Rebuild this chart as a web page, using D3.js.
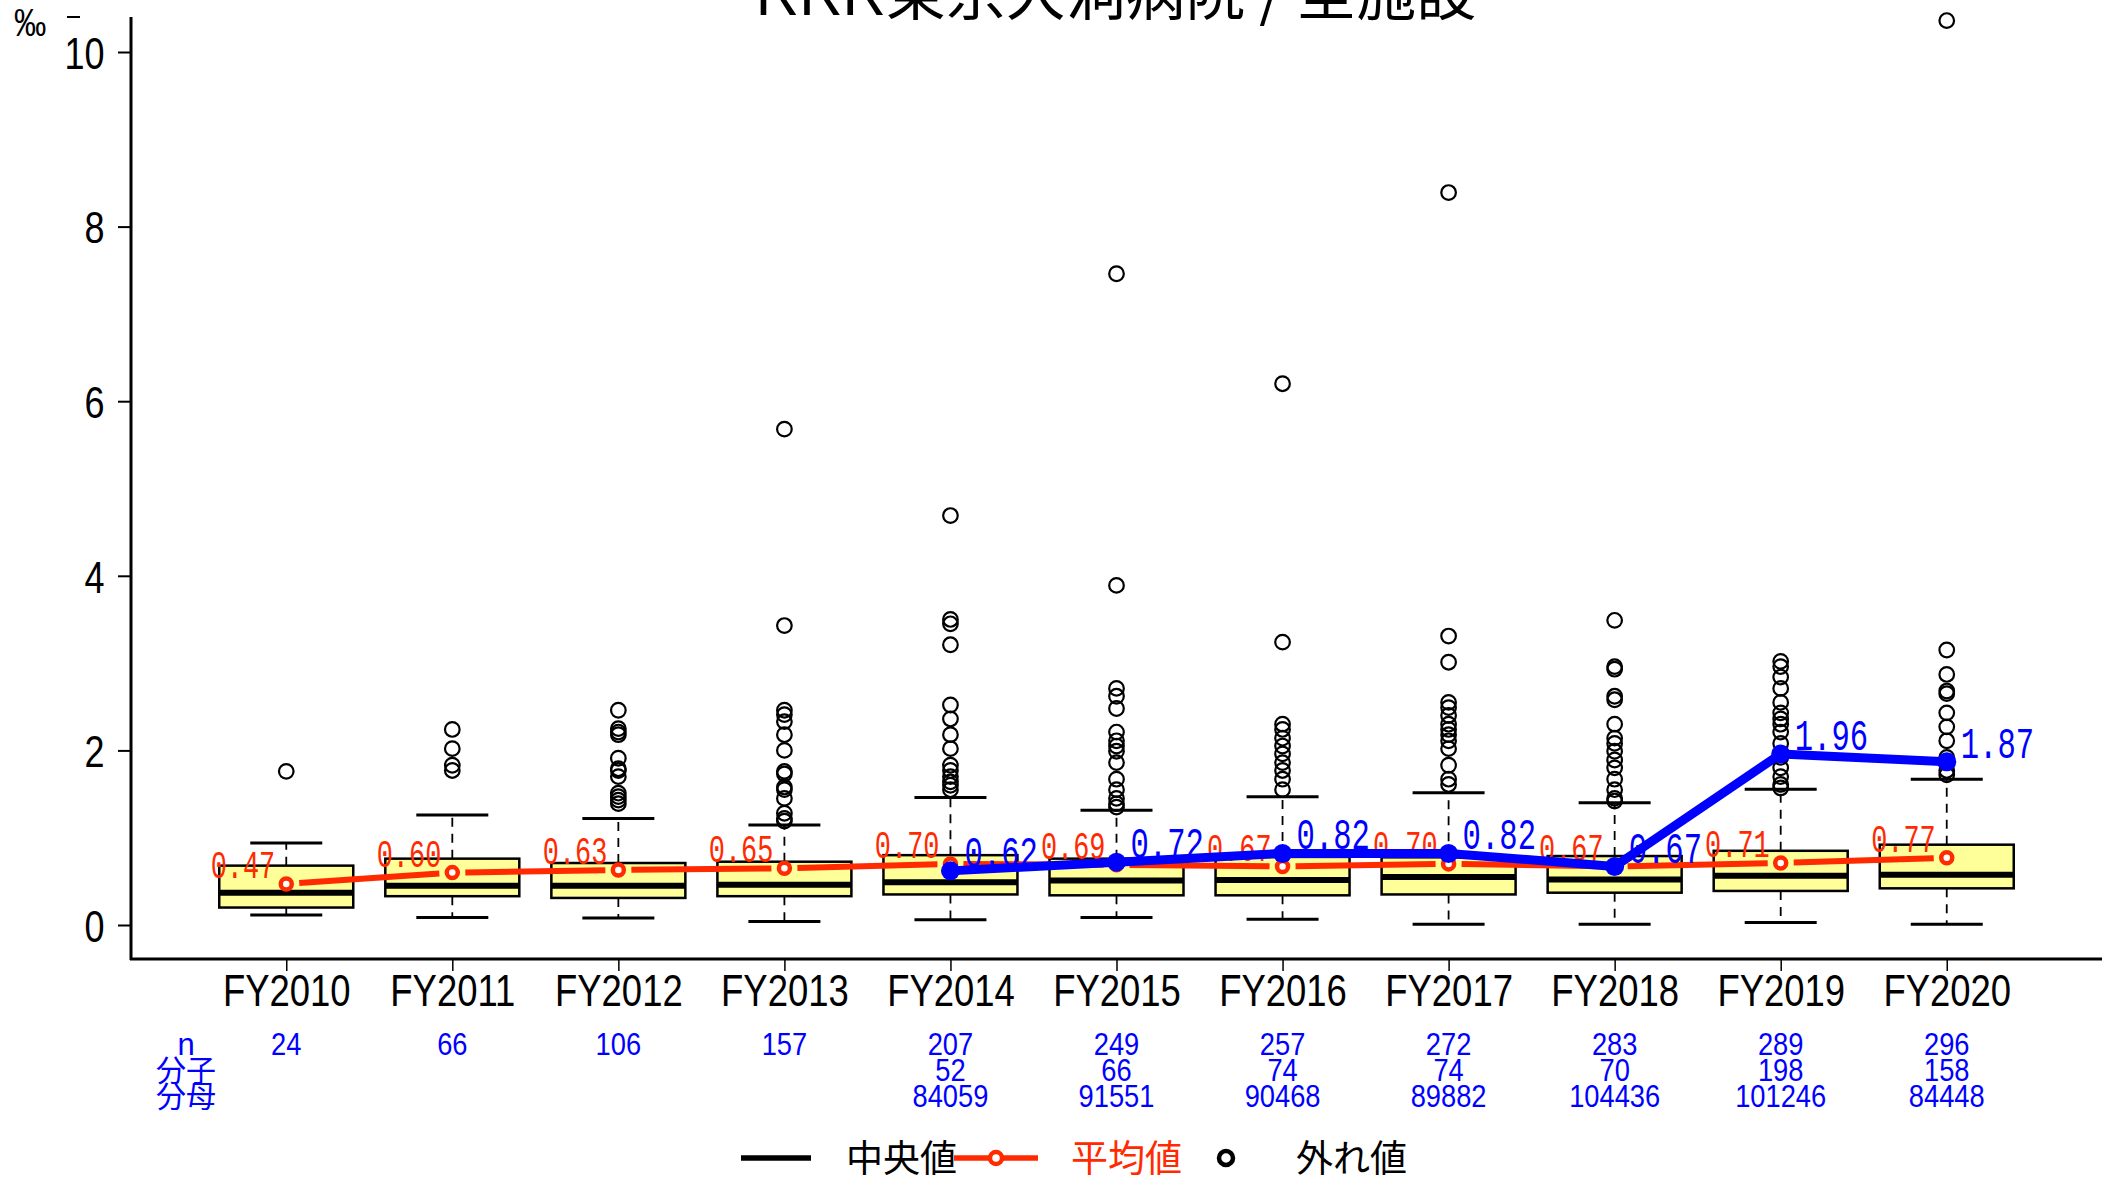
<!DOCTYPE html>
<html><head><meta charset="utf-8">
<script src="https://cdn.jsdelivr.net/npm/d3@7"></script>
<style>html,body{margin:0;padding:0;background:#fff;overflow:hidden}</style>
</head><body><svg id="c" width="2116" height="1178"></svg>
<script>
const years = ["FY2010","FY2011","FY2012","FY2013","FY2014","FY2015","FY2016","FY2017","FY2018","FY2019","FY2020"];
const q1 = [0.20,0.33,0.31,0.33,0.35,0.34,0.34,0.35,0.37,0.39,0.42];
const med = [0.37,0.45,0.45,0.46,0.49,0.51,0.515,0.55,0.52,0.565,0.575];
const q3 = [0.68,0.76,0.71,0.725,0.80,0.76,0.78,0.775,0.79,0.85,0.92];
const whiskLo = [0.115,0.085,0.08,0.04,0.06,0.085,0.065,0.01,0.01,0.03,0.01];
const whiskHi = [0.94,1.26,1.22,1.145,1.46,1.315,1.47,1.515,1.40,1.555,1.67];
const outliers = [
  [1.76],
  [2.24,2.02,1.83,1.77],
  [2.46,2.25,2.21,2.18,1.91,1.79,1.77,1.70,1.51,1.47,1.43,1.39],
  [5.68,3.43,2.46,2.41,2.33,2.18,2.00,1.76,1.73,1.58,1.55,1.45,1.28,1.22,1.19],
  [4.69,3.50,3.45,3.21,2.52,2.36,2.18,2.02,1.83,1.77,1.70,1.64,1.60,1.55],
  [7.46,3.89,2.71,2.62,2.48,2.21,2.11,2.05,1.99,1.86,1.67,1.55,1.45,1.39,1.35],
  [6.20,3.24,2.30,2.24,2.14,2.05,1.96,1.86,1.77,1.67,1.55],
  [8.39,3.31,3.01,2.55,2.49,2.40,2.30,2.24,2.18,2.11,2.02,1.83,1.67,1.61],
  [3.49,2.96,2.93,2.62,2.58,2.30,2.14,2.08,1.99,1.89,1.80,1.67,1.55,1.45,1.42],
  [3.02,2.96,2.84,2.71,2.55,2.43,2.36,2.30,2.21,2.08,1.92,1.80,1.70,1.61,1.57],
  [10.36,3.15,2.87,2.68,2.65,2.43,2.27,2.11,1.92,1.77,1.72]
];
const means = [0.47,0.60,0.63,0.65,0.70,0.69,0.67,0.70,0.67,0.71,0.77];
const facility = [null,null,null,null,0.62,0.72,0.82,0.82,0.67,1.96,1.87];
const nCount = [24,66,106,157,207,249,257,272,283,289,296];
const numer = [null,null,null,null,52,66,74,74,70,198,158];
const denom = [null,null,null,null,84059,91551,90468,89882,104436,101246,84448];
const yTicks = [0,2,4,6,8,10];
const rowLabels = ["n","分子","分母"];
const legendLabels = ["中央値","平均値","外れ値"];
const titleText = "RRR東京大洞病院 / 全施設";
const unitLabel = "‰";

const RED = "#FF2A00", BLUE = "#0000FF";
const SANS = "'Liberation Sans', Arial, sans-serif";
const MONO = "'Liberation Mono', 'DejaVu Sans Mono', monospace";
const CJK = "'Noto Sans CJK JP', 'Noto Sans CJK SC', sans-serif";

const svg = d3.select("#c");
svg.append("rect").attr("width",2116).attr("height",1178).attr("fill","#fff");

const y = d3.scaleLinear().domain([0,10]).range([925,52]);
const x = d3.scalePoint().domain(years).range([131,2102]).padding(0.935);
const boxHalf = 67, capHalf = 36;

function ctext(g, px, py, str, o) {
  return g.append("text")
    .attr("transform", `translate(${px},${py}) scale(${o.sx||1},1)`)
    .attr("text-anchor", o.anchor || "start")
    .attr("font-family", o.family || SANS)
    .attr("font-size", o.size)
    .attr("fill", o.fill || "#000")
    .text(str);
}

// title (clipped at top like the reference)
const title = svg.append("text").attr("x",1116).attr("y",15).attr("text-anchor","middle")
  .attr("font-size",60).attr("font-family",CJK).attr("fill","#000");
title.append("tspan").attr("font-family",SANS).text(titleText.slice(0,3));
title.append("tspan").text(titleText.slice(3));

// unit label
ctext(svg, 14, 36, unitLabel, {size:38, sx:0.85});
svg.append("line").attr("x1",67).attr("x2",80).attr("y1",17).attr("y2",17).attr("stroke","#000").attr("stroke-width",2);

// axes
const yAxis = d3.axisLeft(y).tickValues(yTicks).tickSize(13).tickFormat(d3.format("d"));
const ya = svg.append("g").attr("transform","translate(131,0)").call(yAxis);
ya.select(".domain").remove();
ya.selectAll(".tick line").attr("stroke-width",2);
ya.selectAll(".tick text").attr("font-size",45).attr("font-family",SANS)
  .attr("x",-33).attr("dy","0.36em").attr("transform","scale(0.8,1)");

const xAxis = d3.axisBottom(x).tickSize(12).tickPadding(3);
const xa = svg.append("g").attr("transform",`translate(0,${y(-0.39)})`).call(xAxis);
xa.select(".domain").remove();
xa.selectAll(".tick line").attr("stroke-width",1.5);
xa.selectAll(".tick text").attr("font-size",45).attr("font-family",SANS)
  .attr("transform","scale(0.81,1)");

svg.append("line").attr("x1",131).attr("x2",131).attr("y1",y(10.4)).attr("y2",y(-0.39)+1)
  .attr("stroke","#000").attr("stroke-width",3);
svg.append("line").attr("x1",130).attr("x2",2102).attr("y1",y(-0.39)).attr("y2",y(-0.39))
  .attr("stroke","#000").attr("stroke-width",3);

// boxplots
const bg = svg.append("g");
years.forEach((yr,i)=>{
  const cx = x(yr);
  const g = bg.append("g");
  g.append("line").attr("x1",cx).attr("x2",cx).attr("y1",y(q3[i])).attr("y2",y(whiskHi[i]))
    .attr("stroke","#000").attr("stroke-width",1.8).attr("stroke-dasharray","9,7");
  g.append("line").attr("x1",cx).attr("x2",cx).attr("y1",y(q1[i])).attr("y2",y(whiskLo[i]))
    .attr("stroke","#000").attr("stroke-width",1.8).attr("stroke-dasharray","9,7");
  g.append("line").attr("x1",cx-capHalf).attr("x2",cx+capHalf).attr("y1",y(whiskHi[i])).attr("y2",y(whiskHi[i]))
    .attr("stroke","#000").attr("stroke-width",3);
  g.append("line").attr("x1",cx-capHalf).attr("x2",cx+capHalf).attr("y1",y(whiskLo[i])).attr("y2",y(whiskLo[i]))
    .attr("stroke","#000").attr("stroke-width",3);
  g.append("rect").attr("x",cx-boxHalf).attr("width",boxHalf*2)
    .attr("y",y(q3[i])).attr("height",y(q1[i])-y(q3[i]))
    .attr("fill","#FFFF99").attr("stroke","#000").attr("stroke-width",2.5);
  g.append("line").attr("x1",cx-boxHalf).attr("x2",cx+boxHalf).attr("y1",y(med[i])).attr("y2",y(med[i]))
    .attr("stroke","#000").attr("stroke-width",6);
  g.selectAll("circle.o").data(outliers[i]).enter().append("circle")
    .attr("cx",cx).attr("cy",d=>y(d)).attr("r",7.3)
    .attr("fill","none").attr("stroke","#000").attr("stroke-width",2.2);
});

// mean line (type b: gaps around points)
const mg = svg.append("g");
for (let i=0;i<years.length-1;i++){
  const x1=x(years[i]), y1=y(means[i]), x2=x(years[i+1]), y2=y(means[i+1]);
  const L=Math.hypot(x2-x1,y2-y1), gap=13;
  const ux=(x2-x1)/L, uy=(y2-y1)/L;
  mg.append("line").attr("x1",x1+ux*gap).attr("y1",y1+uy*gap).attr("x2",x2-ux*gap).attr("y2",y2-uy*gap)
    .attr("stroke",RED).attr("stroke-width",6);
}
years.forEach((yr,i)=>{
  mg.append("circle").attr("cx",x(yr)).attr("cy",y(means[i])).attr("r",5.5)
    .attr("fill","#fff").attr("stroke",RED).attr("stroke-width",4.5);
  ctext(mg, x(yr)-11, y(means[i])-6, means[i].toFixed(2), {size:39, sx:0.69, anchor:"end", family:MONO, fill:RED});
});

// facility line
const fIdx = facility.map((v,i)=>i).filter(i=>facility[i]!==null);
const fg = svg.append("g");
fg.append("path").datum(fIdx)
  .attr("d", d3.line().x(i=>x(years[i])).y(i=>y(facility[i])))
  .attr("fill","none").attr("stroke",BLUE).attr("stroke-width",9).attr("stroke-linejoin","round");
fIdx.forEach(i=>{
  fg.append("circle").attr("cx",x(years[i])).attr("cy",y(facility[i])).attr("r",9.5).attr("fill",BLUE);
  ctext(fg, x(years[i])+14, y(facility[i])-4, facility[i].toFixed(2), {size:45, sx:0.68, anchor:"start", family:MONO, fill:BLUE});
});

// table below
const rowsY = [1055,1081,1107];
const tb = svg.append("g");
rowLabels.forEach((lab,r)=>{
  tb.append("text").attr("x",186).attr("y",rowsY[r]).attr("text-anchor","middle")
    .attr("font-family", r===0?SANS:CJK).attr("font-size",r===0?31:30).attr("fill",BLUE).text(lab);
});
years.forEach((yr,i)=>{
  [nCount[i],numer[i],denom[i]].forEach((v,r)=>{
    if (v===null) return;
    ctext(tb, x(yr), rowsY[r], String(v), {size:31, sx:0.88, anchor:"middle", fill:BLUE});
  });
});

// legend
const lg = svg.append("g");
const ly = 1158;
lg.append("line").attr("x1",741).attr("x2",811).attr("y1",ly).attr("y2",ly).attr("stroke","#000").attr("stroke-width",5.5);
lg.append("text").attr("x",846).attr("y",ly+14).attr("font-family",CJK).attr("font-size",37).attr("fill","#000").text(legendLabels[0]);
lg.append("line").attr("x1",954).attr("x2",1038).attr("y1",ly).attr("y2",ly).attr("stroke",RED).attr("stroke-width",5.5);
lg.append("circle").attr("cx",996).attr("cy",ly).attr("r",6).attr("fill","#fff").attr("stroke",RED).attr("stroke-width",4.5);
lg.append("text").attr("x",1071).attr("y",ly+14).attr("font-family",CJK).attr("font-size",37).attr("fill",RED).text(legendLabels[1]);
lg.append("circle").attr("cx",1226).attr("cy",ly).attr("r",7).attr("fill","none").attr("stroke","#000").attr("stroke-width",4.5);
lg.append("text").attr("x",1296).attr("y",ly+14).attr("font-family",CJK).attr("font-size",37).attr("fill","#000").text(legendLabels[2]);
</script></body></html>
